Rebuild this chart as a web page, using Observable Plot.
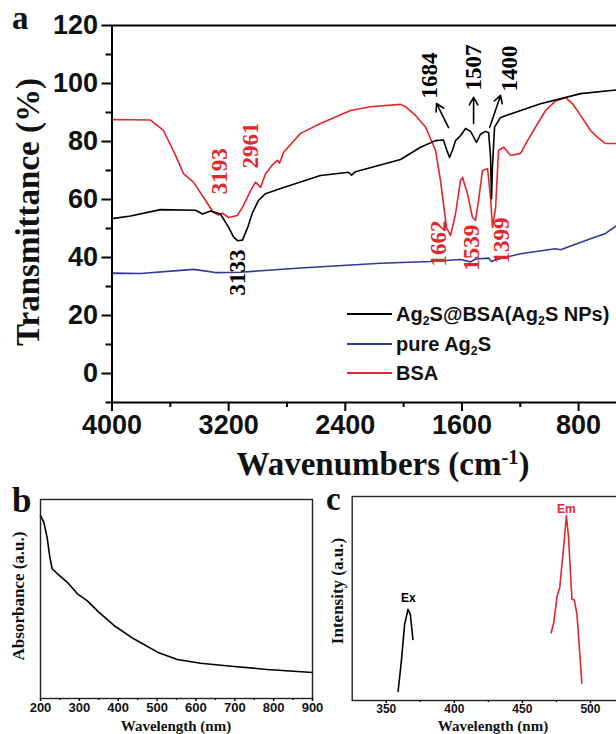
<!DOCTYPE html>
<html><head><meta charset="utf-8">
<script src="https://cdn.jsdelivr.net/npm/d3@7"></script>
<script src="https://cdn.jsdelivr.net/npm/@observablehq/plot@0.6"></script>
<style>
html,body{margin:0;padding:0;background:#fff;overflow:hidden}
#root{position:relative;width:616px;height:734px;overflow:hidden;background:#fff}
#root svg{position:absolute;background:transparent;max-width:none !important;height:auto}
.abs{position:absolute;white-space:nowrap;line-height:1}
.serif{font-family:"Liberation Serif","Times New Roman",serif;font-weight:bold;color:#111}
.sans{font-family:"Liberation Sans",Arial,sans-serif;font-weight:bold;color:#111}
.rot{transform:translate(-50%,-50%) rotate(-90deg)}
.ctr{transform:translate(-50%,-50%)}
.vc{transform:translate(0,-50%)}
.sub{font-size:0.62em;position:relative;top:0.3em}
.sup{font-size:0.62em;position:relative;top:-0.55em}
</style></head>
<body><div id="root"></div>
<script>
// ---------- Panel a : FTIR ----------
const compositeWn = [4000,3873,3667,3427,3379,3324,3256,3201,3166,3139,3105,3070,3036,2995,2947,2844,2707,2570,2378,2357,2330,2021,1884,1781,1727,1700,1685,1665,1644,1610,1575,1541,1500,1473,1438,1417,1404,1397,1390,1376,1335,1061,786,539,400];
const compositeT  = [53.4,54.3,56.5,56.3,55.0,56.0,55.0,50.5,47.0,45.8,46.0,50.3,55.5,59.7,62.0,63.8,66.0,68.3,69.4,68.4,69.6,73.8,78.0,80.3,80.5,76.5,74.5,77.0,80.3,82.0,84.5,83.5,79.7,82.5,83.5,83.0,75,60.3,72,85.0,88.3,93.0,96.5,97.8,98.0];
const pureWn = [4000,4000,3804,3441,3290,3118,2707,2158,1815,1610,1541,1507,1417,1397,1369,1198,958,924,718,615,539,400];
const pureT  = [-10,34.6,34.5,35.9,34.8,34.9,36.4,38.0,38.6,39.3,38.5,39.5,39.8,38.6,39.2,41.3,43.0,42.7,46.5,48.3,51.0,53];
const bsaWn = [4000,4000,3736,3647,3564,3510,3441,3372,3304,3269,3242,3201,3139,3098,3050,3016,2981,2947,2892,2865,2851,2824,2707,2570,2364,2227,2021,1987,1918,1850,1781,1747,1706,1678,1644,1610,1596,1562,1528,1507,1486,1459,1424,1404,1390,1369,1349,1314,1266,1198,1150,1095,1026,958,889,841,786,718,670,615,539,400];
const bsaT  = [0,87.6,87.4,83.8,75.2,68.9,66.0,60.7,55.5,54.6,55.3,53.8,54.5,58.0,63.0,66.0,64.2,68.9,72.4,73.5,72.5,76.2,82.8,86.2,90.7,92.0,92.8,92.0,89.0,85.0,77.0,66.5,50.3,47.6,55.0,66.5,67.6,62.0,53.8,52.8,59.7,70.0,70.6,60.7,50.3,57.2,77.0,78.0,75.2,75.9,80.3,85.0,90.7,94.0,95.1,93.0,89.0,83.8,81.4,79.3,79.3,79.5];

const irMajorX = [4000,3200,2400,1600,800];
const irMinorX = [3600,2800,2000,1200,400];
const irMajorY = [0,20,40,60,80,100,120];
const irMinorY = [-10,10,30,50,70,90,110];

// peak annotations (label, wavenumber, transmittance, series)
const peakLabel  = ["3193","2961","3133","1684","1507","1400","1662","1539","1399"];
const peakWn     = [3259,3050,3139,1822,1520,1273,1760,1534,1328];
const peakT      = [69.7,78.6,34.8,102.8,105.5,105.2,44.8,43.4,45.9];
const peakSeries = ["BSA","BSA","Ag2S@BSA","Ag2S@BSA","Ag2S@BSA","Ag2S@BSA","BSA","BSA","BSA"];
// arrows for the composite peaks
const arrowWn1 = [1692,1520,1410], arrowT1 = [84.8,86.2,84.8];
const arrowWn2 = [1774,1520,1335], arrowT2 = [93.1,95.2,95.9];

// ---------- Panel b : UV-Vis ----------
const uvWl  = [200,208.5,217,224,230,243,269,295,320,350,389,440,501,552,612,698,784,900];
const uvAbs = [0.92,0.886,0.81,0.71,0.652,0.628,0.584,0.526,0.492,0.434,0.367,0.30,0.233,0.196,0.177,0.161,0.146,0.131];
const uvMajor = [200,300,400,500,600,700,800,900];
const uvMinor = [250,350,450,550,650,750,850];

// ---------- Panel c : PL ----------
const exWl = [358.7,361.1,363.5,366,367.7,369.6];
const exI  = [0.044,0.192,0.373,0.447,0.422,0.299];
const emWl = [471.1,473,475.5,477.4,480.3,482.3,483.9,486.4,488.1,490.1,493.7];
const emI  = [0.332,0.381,0.512,0.553,0.75,0.906,0.8,0.496,0.493,0.422,0.085];
const plLabel = ["Ex","Em"], plLabelWl = [366.2,482.3], plLabelI = [0.50,0.94];
const plMajor = [350,400,450,500];
const plMinor = [375,425,475,525];

// ---------- build tables ----------
const zip = (xs, ys, kx, ky) => xs.map((v,i) => ({[kx]: v, [ky]: ys[i]}));
const composite = zip(compositeWn, compositeT, "wn", "t");
const pure = zip(pureWn, pureT, "wn", "t");
const bsa = zip(bsaWn, bsaT, "wn", "t");
const peaks = peakLabel.map((l,i) => ({label:l, wn:peakWn[i], t:peakT[i], series:peakSeries[i]}));
const arrows = arrowWn1.map((v,i) => ({x1:v, y1:arrowT1[i], x2:arrowWn2[i], y2:arrowT2[i]}));
const uv = zip(uvWl, uvAbs, "wl", "a");
const ex = zip(exWl, exI, "wl", "i");
const em = zip(emWl, emI, "wl", "i");
const plLabels = plLabel.map((l,i) => ({label:l, wl:plLabelWl[i], i:plLabelI[i]}));

const RED = "#e3262b", BLUE = "#2e3a94", BLACK = "#000";
const SANS = "Liberation Sans, Arial, sans-serif";
const SERIF = "Liberation Serif, Times New Roman, serif";
const fmt = d => String(d);
const blank = () => "";

const root = document.getElementById("root");
function place(svg, left, top, w, h) {
  svg.style.left = left + "px"; svg.style.top = top + "px";
  svg.style.width = w + "px"; svg.style.height = h + "px";
  svg.style.maxWidth = "none";
  root.appendChild(svg);
}

// Panel a
const WA = 660, HA = 440;
const plotA = Plot.plot({
  width: WA, height: HA,
  marginLeft: 111.5, marginRight: WA - 636.4, marginTop: 25, marginBottom: HA - 402,
  x: {domain: [4000, 400]},
  y: {domain: [-10, 120]},
  marks: [
    Plot.line(pure, {x: "wn", y: "t", stroke: BLUE, strokeWidth: 1.6, clip: true}),
    Plot.line(bsa, {x: "wn", y: "t", stroke: RED, strokeWidth: 1.6, clip: true}),
    Plot.line(composite, {x: "wn", y: "t", stroke: BLACK, strokeWidth: 1.6, clip: true}),
    Plot.frame({stroke: BLACK, strokeWidth: 2}),
    Plot.axisX({ticks: irMajorX, tickSize: 9, tickPadding: 3, fontSize: 27, fontWeight: "bold", fontFamily: SANS, fill: "#111", strokeWidth: 2, tickFormat: fmt, label: null}),
    Plot.axisX({ticks: irMinorX, tickSize: 5, strokeWidth: 2, tickFormat: blank, label: null}),
    Plot.axisY({ticks: irMajorY, tickSize: 10, tickPadding: 4, fontSize: 27, fontWeight: "bold", fontFamily: SANS, fill: "#111", strokeWidth: 2, tickFormat: fmt, label: null}),
    Plot.axisY({ticks: irMinorY, tickSize: 6, strokeWidth: 2, tickFormat: blank, label: null}),
    Plot.arrow(arrows, {x1: "x1", y1: "y1", x2: "x2", y2: "y2", stroke: BLACK, strokeWidth: 1.6, headLength: 8}),
    Plot.text(peaks, {x: "wn", y: "t", text: "label", rotate: -90, fontSize: 23, fontFamily: SERIF, fontWeight: "bold",
      fill: d => d.series === "BSA" ? RED : BLACK})
  ]
});
place(plotA, 0, 0, WA, HA);

// Panel b
const WB = 330, HB = 254, TB = 480;
const plotB = Plot.plot({
  width: WB, height: HB,
  marginLeft: 40, marginRight: WB - 312, marginTop: 499 - TB, marginBottom: TB + HB - 698,
  x: {domain: [200, 900]},
  y: {domain: [0, 1], axis: null},
  marks: [
    Plot.line(uv, {x: "wl", y: "a", stroke: BLACK, strokeWidth: 1.6}),
    Plot.frame({stroke: "#222", strokeWidth: 1.4}),
    Plot.axisX({ticks: uvMajor, tickSize: 3, tickPadding: 1, fontSize: 13, fontWeight: "bold", fontFamily: SANS, fill: "#111", strokeWidth: 1.4, tickFormat: fmt, label: null}),
    Plot.axisX({ticks: uvMinor, tickSize: 2, strokeWidth: 1.2, tickFormat: blank, label: null})
  ]
});
place(plotB, 0, TB, WB, HB);

// Panel c
const LC = 330, WC = 330, HC = 254, TC = 480;
const plotC = Plot.plot({
  width: WC, height: HC,
  marginLeft: 351.7 - LC, marginRight: WC - (624 - LC), marginTop: 496 - TC, marginBottom: TC + HC - 700,
  x: {domain: [325, 525]},
  y: {domain: [0, 1], axis: null},
  marks: [
    Plot.line(ex, {x: "wl", y: "i", stroke: BLACK, strokeWidth: 1.6}),
    Plot.line(em, {x: "wl", y: "i", stroke: RED, strokeWidth: 1.6}),
    Plot.frame({stroke: "#222", strokeWidth: 1.4}),
    Plot.axisX({ticks: plMajor, tickSize: 3, tickPadding: 1, fontSize: 12, fontWeight: "bold", fontFamily: SANS, fill: "#111", strokeWidth: 1.4, tickFormat: fmt, label: null}),
    Plot.axisX({ticks: plMinor, tickSize: 2, strokeWidth: 1.2, tickFormat: blank, label: null}),
    Plot.text(plLabels, {x: "wl", y: "i", text: "label", fontSize: 12, fontWeight: "bold", fontFamily: SANS,
      fill: d => d.label === "Em" ? RED : BLACK})
  ]
});
place(plotC, LC, TC, WC, HC);

// ---------- titles, panel letters, legend ----------
function add(html, cls, css) {
  const d = document.createElement("div");
  d.className = "abs " + cls;
  d.innerHTML = html;
  Object.assign(d.style, css);
  root.appendChild(d);
  return d;
}
add("a", "serif", {left: "12px", top: "2px", fontSize: "33px"});
add("b", "serif", {left: "12px", top: "483px", fontSize: "35px"});
add("c", "serif", {left: "326px", top: "483px", fontSize: "33px"});
add("Transmittance (%)", "serif rot", {left: "28px", top: "212px", fontSize: "33px"});
add('Wavenumbers (cm<span class="sup">-1</span>)', "serif ctr", {left: "383px", top: "464px", fontSize: "33px"});
add("Absorbance (a.u.)", "serif rot", {left: "18px", top: "596px", fontSize: "17px"});
add("Intensity (a.u.)", "serif rot", {left: "337px", top: "591px", fontSize: "17px"});
add("Wavelength (nm)", "serif ctr", {left: "176px", top: "726px", fontSize: "15px"});
add("Wavelength (nm)", "serif ctr", {left: "493px", top: "726px", fontSize: "15px"});

const legendNames = ['Ag<span class="sub">2</span>S@BSA(Ag<span class="sub">2</span>S NPs)', 'pure Ag<span class="sub">2</span>S', 'BSA'];
const legendColors = [BLACK, BLUE, RED];
const legendY = [314, 344, 373];
legendNames.forEach((n, i) => {
  const ln = document.createElement("div");
  Object.assign(ln.style, {position: "absolute", left: "347px", top: (legendY[i] - 1) + "px", width: "45px", height: "2px", background: legendColors[i]});
  root.appendChild(ln);
  add(n, "sans vc", {left: "396px", top: legendY[i] + "px", fontSize: "20px"});
});
</script></body></html>
